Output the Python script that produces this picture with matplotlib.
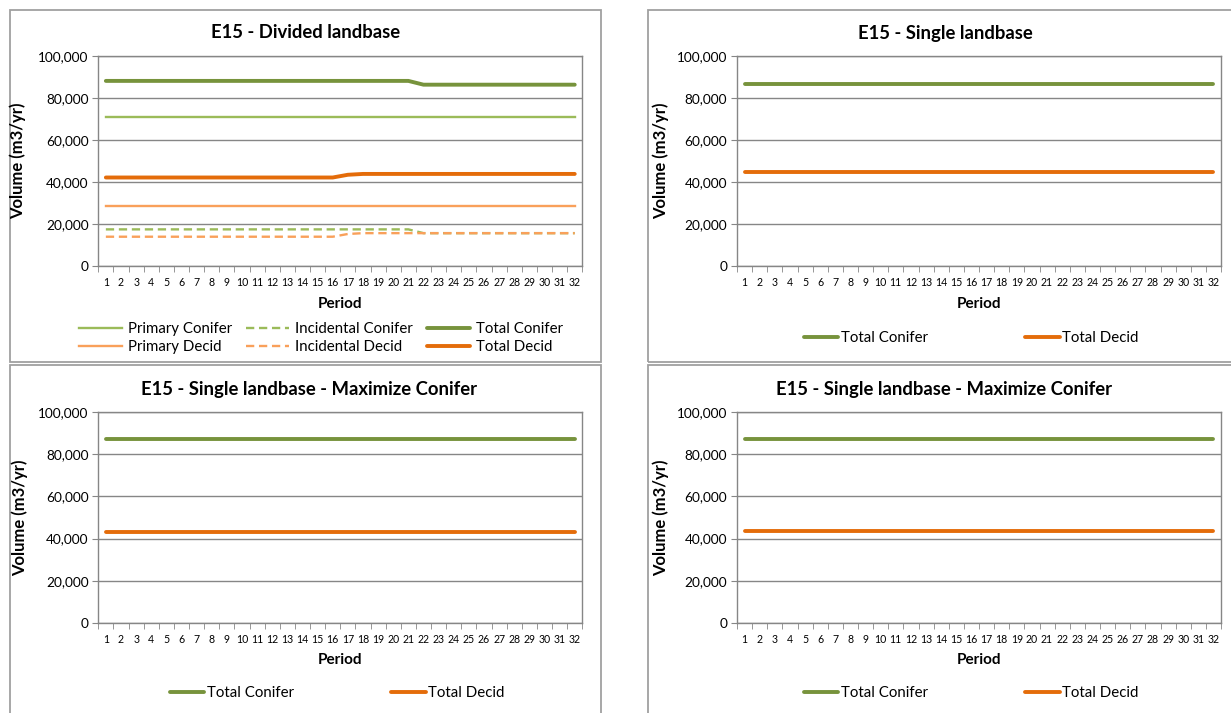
import matplotlib
matplotlib.use("Agg")
import matplotlib.pyplot as plt
from matplotlib.patches import Rectangle

plt.rcParams['font.family'] = ['Lato', 'DejaVu Sans']

W, H = 1231, 713
DPI = 100

periods = list(range(1, 33))
period_labels = [str(p) for p in periods]

# E15 - Divided landbase
div_primary_conifer = [70700, 70700, 70700, 70700, 70700, 70700, 70700, 70700,
                       70700, 70700, 70700, 70700, 70700, 70700, 70700, 70700,
                       70700, 70700, 70700, 70700, 70700, 70700, 70700, 70700,
                       70700, 70700, 70700, 70700, 70700, 70700, 70700, 70700]
div_incidental_conifer = [17300, 17300, 17300, 17300, 17300, 17300, 17300, 17300,
                          17300, 17300, 17300, 17300, 17300, 17300, 17300, 17300,
                          17300, 17300, 17300, 17300, 17300, 15500, 15500, 15500,
                          15500, 15500, 15500, 15500, 15500, 15500, 15500, 15500]
div_total_conifer = [88000, 88000, 88000, 88000, 88000, 88000, 88000, 88000,
                     88000, 88000, 88000, 88000, 88000, 88000, 88000, 88000,
                     88000, 88000, 88000, 88000, 88000, 86200, 86200, 86200,
                     86200, 86200, 86200, 86200, 86200, 86200, 86200, 86200]
div_primary_decid = [28200, 28200, 28200, 28200, 28200, 28200, 28200, 28200,
                     28200, 28200, 28200, 28200, 28200, 28200, 28200, 28200,
                     28200, 28200, 28200, 28200, 28200, 28200, 28200, 28200,
                     28200, 28200, 28200, 28200, 28200, 28200, 28200, 28200]
div_incidental_decid = [13800, 13800, 13800, 13800, 13800, 13800, 13800, 13800,
                        13800, 13800, 13800, 13800, 13800, 13800, 13800, 13800,
                        15100, 15500, 15500, 15500, 15500, 15500, 15500, 15500,
                        15500, 15500, 15500, 15500, 15500, 15500, 15500, 15500]
div_total_decid = [42000, 42000, 42000, 42000, 42000, 42000, 42000, 42000,
                   42000, 42000, 42000, 42000, 42000, 42000, 42000, 42000,
                   43300, 43700, 43700, 43700, 43700, 43700, 43700, 43700,
                   43700, 43700, 43700, 43700, 43700, 43700, 43700, 43700]

# E15 - Single landbase
single_total_conifer = [86700] * 32
single_total_decid = [44800] * 32

# E15 - Single landbase - Maximize Conifer (two runs)
maxc_a_total_conifer = [87200] * 32
maxc_a_total_decid = [43000] * 32
maxc_b_total_conifer = [87200] * 32
maxc_b_total_decid = [43700] * 32

LIGHT_GREEN = '#9BBB59'
DARK_GREEN = '#77933C'
LIGHT_ORANGE = '#F9A05A'
DARK_ORANGE = '#E46C0A'
GRID = '#868686'
BORDER = '#A0A0A0'

fig = plt.figure(figsize=(W / DPI, H / DPI), dpi=DPI)
fig.patch.set_facecolor('white')


def fx(x):
    return x / W


def fy(y):
    return 1 - y / H


def add_panel(x0, y0, x1, y1):
    r = Rectangle((fx(x0), fy(y1)), fx(x1 - x0), (y1 - y0) / H,
                  transform=fig.transFigure, facecolor='none',
                  edgecolor=BORDER, linewidth=1.3, zorder=0)
    fig.patches.append(r)


def make_axes(x0, y0, x1, y1):
    ax = fig.add_axes([fx(x0), fy(y1), fx(x1 - x0), (y1 - y0) / H])
    ax.set_xlim(0.5, 32.5)
    ax.set_ylim(0, 100000)
    ax.set_yticks(range(0, 100001, 20000))
    ax.set_yticklabels([f"{v:,}" for v in range(0, 100001, 20000)], fontsize=9.8)
    ax.set_xticks(periods)
    ax.set_xticklabels(period_labels, fontsize=7.6)
    ax.set_xticks([p + 0.5 for p in range(0, 33)], minor=True)
    ax.tick_params(axis='x', which='major', length=0, pad=8)
    ax.tick_params(axis='x', which='minor', length=4, color=GRID, direction='out')
    ax.tick_params(axis='y', length=4, color=GRID, direction='out', pad=3)
    for s in ax.spines.values():
        s.set_color(GRID)
        s.set_linewidth(1.0)
    ax.grid(axis='y', color=GRID, linewidth=1.0)
    ax.set_axisbelow(True)
    return ax


def axis_texts(ax, panel_cx, title_y, ylabel_x, period_y, title):
    fig.text(fx(panel_cx), fy(title_y), title, ha='center', va='center',
             fontsize=13.3, fontweight='bold')
    bb = ax.get_position()
    fig.text(fx(ylabel_x), (bb.y0 + bb.y1) / 2, 'Volume (m3/yr)', rotation=90,
             ha='center', va='center', fontsize=12, fontweight='bold')
    fig.text((bb.x0 + bb.x1) / 2, fy(period_y), 'Period', ha='center',
             va='center', fontsize=11, fontweight='bold')


# Panel frames
add_panel(10, 9.5, 601, 361.5)
add_panel(648, 9.5, 1240, 361.5)
add_panel(10, 365, 601, 722)
add_panel(648, 365, 1240, 722)

# --- Divided landbase ---
ax1 = make_axes(98.3, 55.7, 582.3, 265.7)
l_pc, = ax1.plot(periods, div_primary_conifer, color=LIGHT_GREEN, lw=1.7,
                 label='Primary Conifer')
l_pd, = ax1.plot(periods, div_primary_decid, color=LIGHT_ORANGE, lw=1.7,
                 label='Primary Decid')
l_ic, = ax1.plot(periods, div_incidental_conifer, color=LIGHT_GREEN, lw=1.7,
                 dashes=(3.5, 2), label='Incidental Conifer')
l_id, = ax1.plot(periods, div_incidental_decid, color=LIGHT_ORANGE, lw=1.7,
                 dashes=(3.5, 2), label='Incidental Decid')
l_tc, = ax1.plot(periods, div_total_conifer, color=DARK_GREEN, lw=2.8,
                 solid_capstyle='round', label='Total Conifer')
l_td, = ax1.plot(periods, div_total_decid, color=DARK_ORANGE, lw=2.8,
                 solid_capstyle='round', label='Total Decid')
axis_texts(ax1, 306, 33, 18, 304, 'E15 - Divided landbase')
fig.legend(handles=[l_pc, l_pd, l_ic, l_id, l_tc, l_td], ncol=3,
           loc='center', bbox_to_anchor=(fx(321), fy(338)), frameon=False,
           fontsize=10.8, handlelength=2.9, handletextpad=0.4,
           columnspacing=0.9, labelspacing=0.3, borderpad=0)


def two_series_panel(box, panel_cx, title_y, ylabel_x, period_y, legend_c,
                     title, conifer, decid):
    ax = make_axes(*box)
    lc, = ax.plot(periods, conifer, color=DARK_GREEN, lw=2.8,
                  solid_capstyle='round', label='Total Conifer')
    ld, = ax.plot(periods, decid, color=DARK_ORANGE, lw=2.8,
                  solid_capstyle='round', label='Total Decid')
    axis_texts(ax, panel_cx, title_y, ylabel_x, period_y, title)
    fig.legend(handles=[lc, ld], ncol=2, loc='center',
               bbox_to_anchor=(fx(legend_c[0]), fy(legend_c[1])),
               frameon=False, fontsize=10.8, handlelength=2.3,
               handletextpad=0.15, columnspacing=6.5, borderpad=0)
    return ax


two_series_panel((737, 55.7, 1221, 265.7), 945, 33, 661, 304, (971, 338),
                 'E15 - Single landbase', single_total_conifer,
                 single_total_decid)
two_series_panel((98.3, 412, 582.3, 623), 309, 389, 20, 660, (337, 693),
                 'E15 - Single landbase - Maximize Conifer',
                 maxc_a_total_conifer, maxc_a_total_decid)
two_series_panel((737, 412, 1221, 623), 944, 389, 661, 660, (971, 693),
                 'E15 - Single landbase - Maximize Conifer',
                 maxc_b_total_conifer, maxc_b_total_decid)

fig.savefig('out.png', dpi=DPI, facecolor='white')
